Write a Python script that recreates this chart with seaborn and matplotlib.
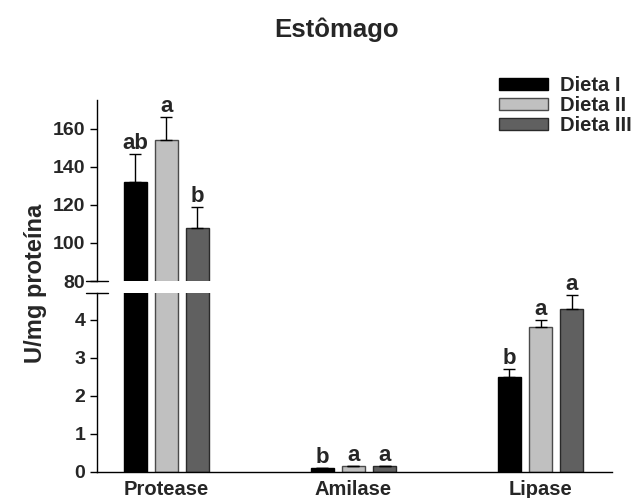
import matplotlib
matplotlib.use("Agg")
import matplotlib.pyplot as plt
import seaborn as sns
import pandas as pd

# dados
enzimas = ["Protease", "Amilase", "Lipase"]
dietas = ["Dieta I", "Dieta II", "Dieta III"]
dieta1 = [132.0, 0.085, 2.49]
dieta2 = [154.0, 0.14, 3.81]
dieta3 = [108.0, 0.14, 4.29]
erro1 = [15.0, 0.0, 0.21]
erro2 = [12.0, 0.0, 0.18]
erro3 = [11.0, 0.0, 0.35]
letras1 = ["ab", "b", "b"]
letras2 = ["a", "a", "a"]
letras3 = ["b", "a", "a"]

cores = ["#000000", "#c0c0c0", "#606060"]
bordas = ["#000000", "#4a4a4a", "#2a2a2a"]

rows = []
for d, vals, errs, lets in zip(dietas, [dieta1, dieta2, dieta3],
                               [erro1, erro2, erro3], [letras1, letras2, letras3]):
    for e, v, s, l in zip(enzimas, vals, errs, lets):
        rows.append({"enzima": e, "dieta": d, "valor": v, "erro": s, "letra": l})
df = pd.DataFrame(rows)

sns.set_style("ticks")
plt.rcParams['font.family'] = ['Liberation Sans', 'DejaVu Sans']
plt.rcParams['font.weight'] = 'bold'

fig = plt.figure(figsize=(6.32, 4.98), dpi=100)
ax_top = fig.add_axes([0.1535, 0.4357, 0.8145, 0.363])
ax_bot = fig.add_axes([0.1535, 0.0532, 0.8145, 0.3584])

barras = {}
for ax in (ax_top, ax_bot):
    sns.barplot(data=df, x="enzima", y="valor", hue="dieta", order=enzimas,
                hue_order=dietas, palette=cores, width=0.5, gap=0.26,
                errorbar=None, ax=ax, legend=False, saturation=1)
    barras[ax] = list(ax.containers[:3])
    for cont, ec in zip(barras[ax], bordas):
        for p in cont.patches:
            p.set_edgecolor(ec)
            p.set_linewidth(1)
    ax.set_xlim(-0.37, 2.38)
    ax.set_xlabel("")
    ax.set_ylabel("")
    ax.tick_params(axis="y", labelsize=14, length=5, width=1, direction="out", color="black")
    sns.despine(ax=ax)

# barras de erro e letras
for hi, d in enumerate(dietas):
    sub = df[df["dieta"] == d].set_index("enzima").loc[enzimas]
    for ax in (ax_top, ax_bot):
        xs = [p.get_x() + p.get_width() / 2 for p in barras[ax][hi].patches]
        ax.errorbar(xs, sub["valor"], yerr=[[0] * 3, sub["erro"].tolist()], fmt="none",
                    ecolor="black", elinewidth=1, capsize=4, capthick=1)
    xs = [p.get_x() + p.get_width() / 2 for p in barras[ax_bot][hi].patches]
    for x, v, s, l in zip(xs, sub["valor"], sub["erro"], sub["letra"]):
        ax = ax_top if v > 80 else ax_bot
        ax.annotate(l, (x, v + s), xytext=(0, 0), textcoords="offset points",
                    ha="center", va="bottom", fontsize=16, fontweight="bold",
                    annotation_clip=False)

ax_top.set_ylim(80, 175)
ax_top.set_yticks([80, 100, 120, 140, 160])
ax_top.spines["bottom"].set_visible(False)
ax_top.tick_params(axis="x", bottom=False, labelbottom=False)

ax_bot.set_ylim(0, 4.7)
ax_bot.set_yticks([0, 1, 2, 3, 4])
ax_bot.tick_params(axis="x", length=0, labelsize=14.5, pad=6)

for ax in (ax_top, ax_bot):
    for lab in ax.get_yticklabels() + ax.get_xticklabels():
        lab.set_fontweight("bold")
    ax.spines["left"].set_linewidth(1)
    ax.spines["bottom"].set_linewidth(1)
    ax.spines["left"].set_color("black")
    ax.spines["bottom"].set_color("black")

# marcas de quebra do eixo
ax_top.plot([-0.022, 0.022], [0, 0], transform=ax_top.transAxes, color="black",
            lw=1, clip_on=False)
ax_bot.plot([-0.022, 0.022], [1, 1], transform=ax_bot.transAxes, color="black",
            lw=1, clip_on=False)

fig.legend(handles=[c.patches[0] for c in barras[ax_top]], labels=dietas,
           loc="upper left", bbox_to_anchor=(0.79, 0.848), frameon=False,
           handlelength=2.4, handleheight=0.55, labelspacing=0.05,
           handletextpad=0.6, borderaxespad=0, borderpad=0,
           prop={"weight": "bold", "size": 14.5})

fig.text(0.532, 0.94, "Estômago", ha="center", va="center", fontsize=18.5, fontweight="bold")
fig.text(0.056, 0.43, "U/mg proteína", ha="center", va="center", rotation=90,
         fontsize=17, fontweight="bold")

fig.savefig("out.png", dpi=100)
